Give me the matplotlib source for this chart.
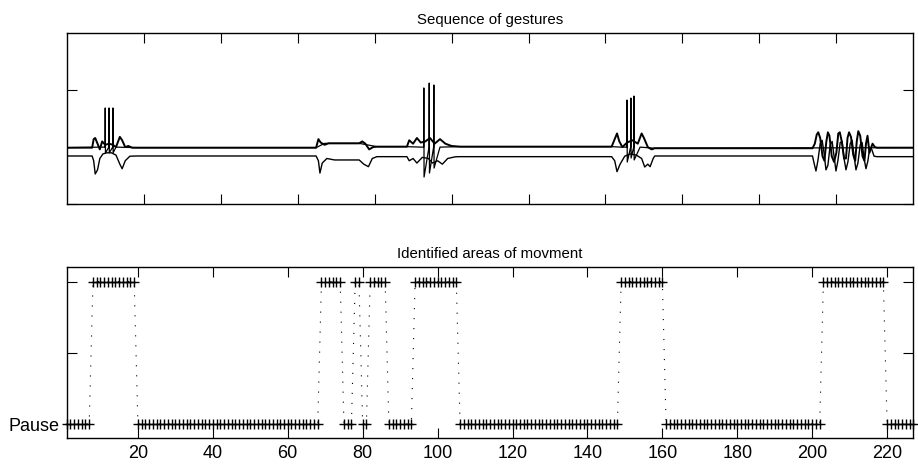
import numpy as np
import matplotlib
matplotlib.use("Agg")
import matplotlib.pyplot as plt

plt.rcParams['font.family'] = ['Liberation Sans', 'DejaVu Sans']

# ---------------- Top panel: sequence of gestures (waypoints) ----
# trace A: upper baseline
a_x = [0, 0.33, 0.35, 0.37, 0.40, 0.43, 0.46, 0.50, 0.55, 0.60, 0.64, 0.69, 0.72, 0.76,
       0.80, 0.85, 0.91, 3.24, 3.27, 3.30, 3.35, 3.40, 3.80, 3.84, 3.88, 3.93, 3.98, 4.03,
       4.42, 4.45, 4.50, 4.55, 4.60, 4.66, 4.72, 4.78, 4.85, 4.92, 5.00, 5.11, 7.08, 7.12,
       7.15, 7.18, 7.22, 7.28, 7.35, 7.42, 7.47, 7.50, 7.55, 7.60, 7.64, 9.69, 9.72, 9.745,
       9.765, 9.79, 9.82, 9.845, 9.87, 9.89, 9.91, 9.94, 9.97, 10.00, 10.025, 10.045, 10.07,
       10.10, 10.125, 10.145, 10.165, 10.19, 10.22, 10.245, 10.265, 10.285, 10.31, 10.34,
       10.365, 10.385, 10.405, 10.43, 10.47, 10.50, 10.53, 11.0]
a_y = [-0.505, -0.505, -0.43, -0.42, -0.47, -0.52, -0.45, -0.48, -0.47, -0.48, -0.50, -0.41,
       -0.44, -0.50, -0.49, -0.505, -0.505, -0.505, -0.43, -0.46, -0.48, -0.467, -0.467,
       -0.45, -0.47, -0.52, -0.50, -0.496, -0.496, -0.44, -0.47, -0.42, -0.46, -0.45, -0.42,
       -0.47, -0.43, -0.47, -0.49, -0.496, -0.496, -0.43, -0.38, -0.45, -0.50, -0.46, -0.44,
       -0.47, -0.38, -0.42, -0.50, -0.52, -0.51, -0.51, -0.47, -0.39, -0.37, -0.42, -0.58,
       -0.62, -0.45, -0.37, -0.40, -0.58, -0.63, -0.55, -0.38, -0.37, -0.45, -0.60, -0.60,
       -0.42, -0.37, -0.41, -0.57, -0.62, -0.45, -0.36, -0.40, -0.58, -0.62, -0.47, -0.40,
       -0.55, -0.47, -0.50, -0.505, -0.505]

# trace B: lower baseline
b_x = [0, 0.33, 0.35, 0.37, 0.40, 0.43, 0.47, 0.52, 0.58, 0.64, 0.69, 0.72, 0.76, 0.82,
       0.91, 3.24, 3.27, 3.29, 3.32, 3.38, 3.48, 3.80, 3.86, 3.92, 3.97, 4.03, 4.42, 4.45,
       4.50, 4.55, 4.62, 4.70, 4.75, 4.82, 4.88, 4.95, 5.05, 5.11, 7.08, 7.12, 7.15, 7.19,
       7.25, 7.32, 7.40, 7.47, 7.51, 7.55, 7.58, 7.62, 7.64, 9.69, 9.71, 9.735, 9.76, 9.79,
       9.815, 9.84, 9.865, 9.89, 9.92, 9.945, 9.97, 9.995, 10.02, 10.05, 10.075, 10.10,
       10.125, 10.15, 10.18, 10.205, 10.23, 10.255, 10.28, 10.31, 10.335, 10.36, 10.385,
       10.41, 10.435, 10.46, 10.49, 10.53, 11.0]
b_y = [-0.578, -0.578, -0.62, -0.736, -0.70, -0.60, -0.56, -0.55, -0.55, -0.57, -0.65,
       -0.69, -0.62, -0.58, -0.578, -0.578, -0.62, -0.728, -0.64, -0.60, -0.613, -0.613,
       -0.65, -0.672, -0.60, -0.584, -0.584, -0.62, -0.60, -0.64, -0.59, -0.60, -0.64,
       -0.62, -0.65, -0.60, -0.585, -0.584, -0.584, -0.62, -0.716, -0.65, -0.58, -0.56,
       -0.57, -0.60, -0.675, -0.65, -0.672, -0.60, -0.578, -0.578, -0.64, -0.71, -0.62,
       -0.47, -0.44, -0.55, -0.70, -0.66, -0.48, -0.45, -0.58, -0.71, -0.62, -0.46, -0.45,
       -0.60, -0.70, -0.63, -0.47, -0.44, -0.58, -0.70, -0.64, -0.48, -0.46, -0.60, -0.69,
       -0.62, -0.50, -0.52, -0.58, -0.584, -0.584]

# trace C: spiky channel (spike positions, tops and bottoms)
c_x = [0, 0.46, 0.497, 0.50, 0.503, 0.547, 0.55, 0.553, 0.597, 0.60, 0.603, 0.64, 0.91,
       3.24, 3.35, 3.80, 4.03, 4.42, 4.60, 4.637, 4.64, 4.643, 4.707, 4.71, 4.713,
       4.767, 4.77, 4.773, 4.85, 5.11, 7.08, 7.20, 7.277, 7.28, 7.283, 7.327, 7.33,
       7.333, 7.367, 7.37, 7.373, 7.45, 7.64, 11.0]
c_y = [-0.505, -0.50, -0.50, -0.156, -0.552, -0.50, -0.156, -0.55, -0.50, -0.156, -0.55,
       -0.50, -0.505, -0.505, -0.467, -0.467, -0.496, -0.496, -0.50, -0.50, 0.02, -0.763,
       -0.50, 0.063, -0.728, -0.50, 0.046, -0.684, -0.50, -0.496, -0.496, -0.50, -0.50,
       -0.086, -0.631, -0.50, -0.069, -0.596, -0.50, -0.051, -0.613, -0.50, -0.51, -0.505]

# ---------------- Bottom panel: identified areas of movement -------------------------
run_start = [1, 8, 20, 69, 75, 78, 80, 82, 87, 94, 106, 149, 161, 203, 220]
run_end   = [7, 19, 68, 74, 77, 79, 81, 86, 93, 105, 148, 160, 202, 219, 227]
run_state = [0, 2, 0, 2, 0, 2, 0, 2, 0, 2, 0, 2, 0, 2, 0]

state_ticks = [0, 1, 2]
state_labels = ['Pause', '', '']
x_ticks_bottom = [20, 40, 60, 80, 100, 120, 140, 160, 180, 200, 220]

samples = np.concatenate([np.arange(s, e + 1) for s, e in zip(run_start, run_end)])
states = np.concatenate([np.full(e - s + 1, v) for s, e, v in zip(run_start, run_end, run_state)])

fig = plt.figure(figsize=(9.18, 4.68), dpi=100)
ax1 = fig.add_axes([0.0727, 0.5641, 0.9222, 0.3647])
ax2 = fig.add_axes([0.0727, 0.0635, 0.9222, 0.3654])

ax1.plot(b_x, b_y, color='black', lw=1.0)
ax1.plot(c_x, c_y, color='black', lw=0.9)
ax1.plot(a_x, a_y, color='black', lw=1.4)
ax1.set_xlim(0, 11)
ax1.set_ylim(-1, 0.5)
ax1.set_xticks(range(1, 11))
ax1.set_yticks([-1, 0])
ax1.set_xticklabels([])
ax1.set_yticklabels([])
ax1.set_title('Sequence of gestures', fontsize=10.8, pad=7)

ax2.plot(samples, states, color='black', lw=0.8, linestyle=(0, (1, 8)),
         marker='+', markersize=7.5, markeredgewidth=1.0, clip_on=False)
ax2.set_xlim(1, 227)
ax2.set_ylim(-0.2, 2.2)
ax2.set_xticks(x_ticks_bottom)
ax2.set_yticks(state_ticks)
ax2.set_yticklabels(state_labels)
ax2.set_title('Identified areas of movment', fontsize=10.8, pad=7)

for ax in (ax1, ax2):
    ax.tick_params(direction='in', length=7, width=0.8, top=True, right=True,
                   labelsize=13, pad=5)
    for sp in ax.spines.values():
        sp.set_linewidth(1.0)

fig.savefig('out.png', dpi=100)
